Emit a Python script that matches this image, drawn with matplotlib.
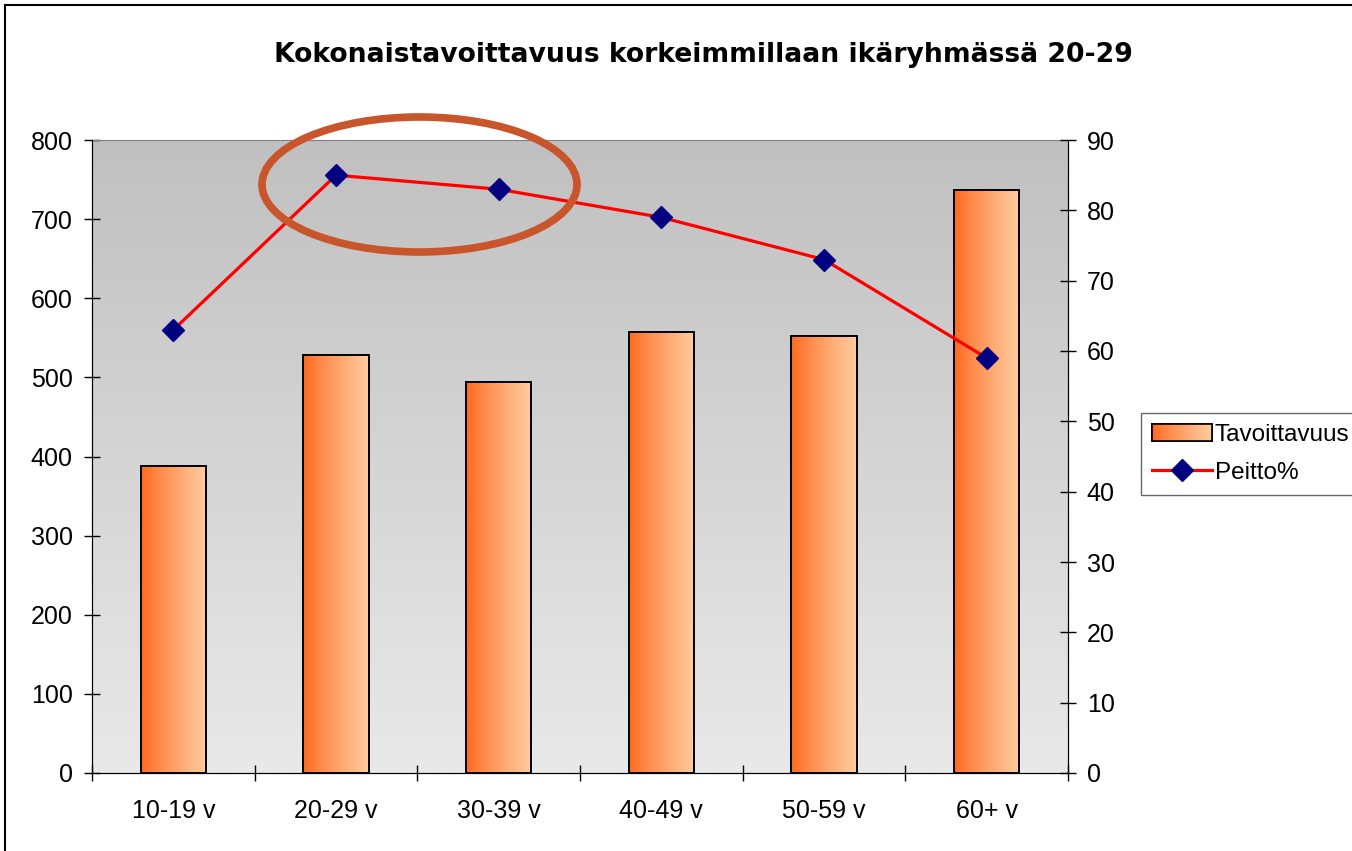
import matplotlib
matplotlib.use("Agg")
import matplotlib.pyplot as plt
import numpy as np
from matplotlib.patches import Ellipse, Rectangle
from matplotlib.lines import Line2D

# data
groups = ["10-19 v", "20-29 v", "30-39 v", "40-49 v", "50-59 v", "60+ v"]
tavoittavuus = [388, 528, 494, 557, 552, 737]
peitto = [63, 85, 83, 79, 73, 59]

title = "Kokonaistavoittavuus korkeimmillaan ikäryhmässä 20-29"

plt.rcParams['font.family'] = ['Liberation Sans', 'DejaVu Sans']

fig = plt.figure(figsize=(13.52, 8.51), dpi=100)
ax = fig.add_axes([92/1352, 1-773/851, 976/1352, 633/851])

# gradient colours
c_left = np.array([255, 102, 25]) / 255
c_right = np.array([255, 204, 160]) / 255
grad = (np.linspace(0, 1, 256) ** 0.8)[None, :, None]
bar_img = c_left + (c_right - c_left) * grad

bg_top = np.array([192, 192, 192]) / 255
bg_bot = np.array([233, 233, 233]) / 255
vg = np.linspace(0, 1, 256)[:, None, None]
bg_img = bg_top + (bg_bot - bg_top) * vg
ax.imshow(bg_img, extent=[0, 1, 0, 1], transform=ax.transAxes, aspect='auto', zorder=0)

x = np.arange(len(groups))
bars = ax.bar(x, tavoittavuus, width=0.4, facecolor='none', edgecolor='black',
              linewidth=1.4, zorder=3)
for b in bars:
    x0, y0 = b.get_x(), b.get_y()
    im = ax.imshow(bar_img, extent=[x0, x0 + b.get_width(), y0, y0 + b.get_height()],
                   aspect='auto', zorder=2)
    im.set_clip_path(b)

ax.set_xlim(-0.5, 5.5)
ax.set_ylim(0, 800)
ax.set_yticks(np.arange(0, 801, 100))
ax.set_xticks(x)
ax.set_xticklabels(groups)
ax.set_xticks(np.arange(-0.5, 5.6, 1), minor=True)
ax.tick_params(axis='x', which='major', length=0, labelsize=18, pad=19)
ax.tick_params(axis='x', which='minor', direction='inout', length=11, width=1)
ax.tick_params(axis='y', direction='inout', length=11, width=1, labelsize=18, pad=8.5)
for s in ['left', 'bottom', 'right']:
    ax.spines[s].set_color('black')
ax.spines['top'].set_color('#808080')

ax2 = ax.twinx()
ax2.plot(x, peitto, color='red', linewidth=2.3, marker='D', markersize=11,
         markerfacecolor='#000080', markeredgecolor='#000080', zorder=4)
ax2.set_ylim(0, 90)
ax2.set_yticks(np.arange(0, 91, 10))
ax2.tick_params(axis='y', direction='inout', length=11, width=1, labelsize=18, pad=8)
ax2.spines['top'].set_visible(False)

# highlight ellipse
ell = Ellipse((419.5/1352, 1-184.5/851), 315/1352, 135/851, transform=fig.transFigure,
              facecolor='none', edgecolor='#C8552B', linewidth=5.5, zorder=5)
fig.patches.append(ell)

fig.text(703/1352, 1-55/851, title, ha='center', va='center', fontsize=19.2,
         fontweight='bold', family='DejaVu Sans')

handles = [Rectangle((0, 0), 1, 1, facecolor='#FF9960', edgecolor='black', linewidth=1.2),
           Line2D([], [], color='red', linewidth=2.3, marker='D', markersize=11,
                  markerfacecolor='#000080', markeredgecolor='#000080')]
leg = fig.legend(handles, ["Tavoittavuus", "Peitto%"], loc='upper left',
                 bbox_to_anchor=(1141/1352, 1-413/851), fontsize=17.5, frameon=True,
                 fancybox=False, edgecolor='#404040', handlelength=2.45,
                 handletextpad=0.12, borderaxespad=0, borderpad=0.47, labelspacing=0.62)
leg.get_frame().set_linewidth(1)

# figure frame (top and left edges only)
fig.add_artist(Line2D([5/1352, 5/1352], [0, 1 - 5/851], transform=fig.transFigure,
                      color='black', linewidth=1.5))
fig.add_artist(Line2D([5/1352, 1], [1 - 5/851, 1 - 5/851], transform=fig.transFigure,
                      color='black', linewidth=1.5))

fig.canvas.draw()
# gradient inside the legend patch
p = leg.get_patches()[0]
bb = p.get_window_extent().transformed(fig.transFigure.inverted())
lax = fig.add_axes([bb.x0, bb.y0, bb.width, bb.height], zorder=10)
lax.imshow(bar_img, aspect='auto', extent=[0, 1, 0, 1])
lax.set_xticks([])
lax.set_yticks([])
for s in lax.spines.values():
    s.set_linewidth(1.2)

fig.savefig("out.png", dpi=100)
